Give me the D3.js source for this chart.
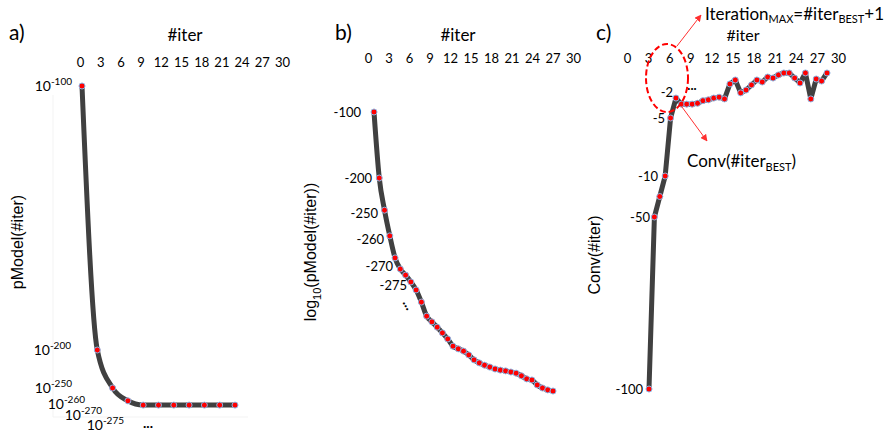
<!DOCTYPE html>
<html><head><meta charset="utf-8">
<script src="https://cdn.jsdelivr.net/npm/d3@7"></script>
<style>body{margin:0;background:#fff}svg{display:block}</style>
</head><body>
<svg id="c" width="891" height="435"></svg>
<script>
// ---------- data ----------
const xTicks = [0,3,6,9,12,15,18,21,24,27,30];
const aTickVals = [-100,-200,-250,-260,-270,-275];
const aTickExp = ["-100","-200","-250","-260","-270","-275"];
const bTickVals = [-100,-200,-250,-260,-270,-275];
const cTickVals = [-2,-5,-10,-50,-100];
// log10 of pModel per iteration (panel a)
const pModelA = [-100,-200,-250,-258,-261,-261,-261,-261,-261,-261,-261];
// log10(pModel(#iter)) (panel b)
const log10B = [-100,-200,-246,-258.8,-267,-270.8,-272.4,-274.2,-276.3,-279.5,-283.2,-284.7,-286.1,-287.6,-289.2,-291.1,-291.8,-292.4,-293.4,-294.7,-295.5,-296.1,-296.6,-297.1,-297.4,-297.6,-297.9,-298.2,-298.9,-299.7,-300,-301.3,-302.1,-302.6,-302.9];
// Conv(#iter) (panel c)
const convC = [-100,-50,-30,-10,-5,-2.7,-3.4,-3.4,-3.4,-3.3,-3.0,-2.9,-2.7,-2.6,-2.8,-1.27,-0.91,-2.1,-1.82,-1.36,-0.91,-1.09,-0.64,-0.73,-0.45,-0.27,-0.27,-0.73,-1.18,-0.27,-2.8,-0.82,-1.0,-0.27];

// ---------- drawing ----------
const svg = d3.select("#c");
const tickFont = "Lato, 'Open Sans', sans-serif";
const lineColor = "#404040";

function panel(cfg){
  const g = svg.append("g");
  const xs = d3.scaleLinear().domain([0,30]).range(cfg.xRange);
  const ax = g.append("g").attr("transform",`translate(0,${cfg.xAxisY})`)
    .call(d3.axisTop(xs).tickValues(xTicks).tickSize(0).tickPadding(0));
  ax.select(".domain").remove();
  ax.selectAll("text").attr("font-family",tickFont).attr("font-size",13).attr("fill","#000").attr("dy","0.35em");
  g.append("text").attr("x",cfg.headX).attr("y",cfg.headY).attr("text-anchor","middle")
    .attr("font-family",tickFont).attr("font-size",cfg.headFont||17).attr("dy","0.35em").text("#iter");
  g.append("text").attr("x",cfg.letterX).attr("y",33).attr("dy","0.35em")
    .attr("font-family",tickFont).attr("font-size",21).text(cfg.letter);
  const ys = d3.scaleLinear().domain(cfg.yDomain).range(cfg.yRange);
  const px = d3.scalePoint().domain(d3.range(cfg.data.length)).range(cfg.ptRange);
  cfg.yTicks.forEach((v,i)=>{
    const t = g.append("text").attr("x",cfg.yLabelX[i]).attr("y",ys(v)).attr("dy","0.35em")
      .attr("text-anchor","end").attr("font-family",tickFont).attr("font-size",cfg.yFont||13);
    if(cfg.exp){
      t.append("tspan").text("10");
      t.append("tspan").attr("font-size",10).attr("dy","-0.55em").text(cfg.exp[i]);
    } else t.text(String(v));
  });
  g.append("text").attr("transform",`translate(${cfg.titleX},${cfg.titleY}) rotate(-90)`)
    .attr("text-anchor","middle").attr("font-family","'Liberation Sans', Arial, sans-serif")
    .attr("font-size",16).html(cfg.title);
  const line = d3.line().x((d,i)=>px(i)).y(d=>ys(d)).curve(cfg.curve);
  g.append("path").datum(cfg.data).attr("d",line).attr("fill","none")
    .attr("stroke",lineColor).attr("stroke-width",5).attr("stroke-linejoin","round").attr("stroke-linecap","round");
  g.selectAll("circle.m").data(cfg.data).join("circle").attr("class","m")
    .attr("cx",(d,i)=>px(i)).attr("cy",d=>ys(d)).attr("r",3)
    .attr("fill","#ff0000").attr("stroke","#8db3e2").attr("stroke-width",1);
  return g;
}

svg.append("line").attr("x1",53).attr("y1",95).attr("x2",53).attr("y2",417).attr("stroke","#f3f3f3");
svg.append("line").attr("x1",53).attr("y1",417).attr("x2",248).attr("y2",417).attr("stroke","#f3f3f3");

panel({letter:"a)",letterX:9,xRange:[80,282],xAxisY:62,headX:185,headY:35,
  yDomain:aTickVals,yRange:[86,350,388,404,415,425],yTicks:aTickVals,exp:aTickExp,
  yLabelX:[72,71,72,85,102,124],yFont:14,
  title:"pModel(#iter)",titleX:23,titleY:242,
  data:pModelA,ptRange:[82,235],curve:d3.curveMonotoneX});

panel({letter:"b)",letterX:335,xRange:[368,573],xAxisY:58,headX:458,headY:35,
  yDomain:bTickVals,yRange:[112,178,213,239,266,285],yTicks:bTickVals,
  yLabelX:[361,372,378,384,393,407],
  title:"log<tspan font-size='11' dy='5'>10</tspan><tspan dy='-5'>(pModel(#iter))</tspan>",titleX:316,titleY:252,
  data:log10B,ptRange:[374,553],curve:d3.curveMonotoneX});

panel({letter:"c)",letterX:596,xRange:[627,838],xAxisY:58,headX:743,headY:35,headFont:16,
  yDomain:[0,-2,-5,-10,-50,-100],yRange:[70,92,118,176,217,389],yTicks:cTickVals,
  yLabelX:[673,665,658,650,643],
  title:"Conv(#iter)",titleX:600,titleY:255,
  data:convC,ptRange:[649,827],curve:d3.curveLinear});

svg.append("text").attr("x",148).attr("y",427).attr("text-anchor","middle").attr("dy","0.1em")
  .attr("font-family",tickFont).attr("font-size",14).attr("font-weight","bold").text("...");
svg.append("text").attr("transform","translate(406,306) rotate(60)").attr("text-anchor","middle")
  .attr("dy","0.1em").attr("font-family",tickFont).attr("font-size",14).attr("font-weight","bold").text("...");
svg.append("text").attr("x",692).attr("y",89).attr("text-anchor","middle").attr("dy","0.1em")
  .attr("font-family",tickFont).attr("font-size",13).attr("font-weight","bold").text("...");

const defs = svg.append("defs");
defs.append("marker").attr("id","ah").attr("viewBox","0 0 10 10").attr("refX",9).attr("refY",5)
  .attr("markerWidth",7).attr("markerHeight",7).attr("orient","auto")
  .append("path").attr("d","M0,0L10,5L0,10z").attr("fill","#ff3030");
svg.append("ellipse").attr("cx",667).attr("cy",78).attr("rx",21).attr("ry",34)
  .attr("fill","none").attr("stroke","#ff0000").attr("stroke-width",2).attr("stroke-dasharray","6,3");
svg.append("line").attr("x1",677).attr("y1",46).attr("x2",701).attr("y2",15)
  .attr("stroke","#ff3030").attr("stroke-width",1).attr("marker-end","url(#ah)");
svg.append("line").attr("x1",682).attr("y1",107).attr("x2",707).attr("y2",141)
  .attr("stroke","#ff3030").attr("stroke-width",1).attr("marker-end","url(#ah)");

const t1 = svg.append("text").attr("x",705).attr("y",14).attr("dy","0.35em")
  .attr("font-family",tickFont).attr("font-size",17);
t1.append("tspan").text("Iteration");
t1.append("tspan").attr("font-size",11).attr("dy",3).text("MAX");
t1.append("tspan").attr("dy",-3).text("=#iter");
t1.append("tspan").attr("font-size",11).attr("dy",3).text("BEST");
t1.append("tspan").attr("dy",-3).text("+1");

const t2 = svg.append("text").attr("x",687).attr("y",161).attr("dy","0.35em")
  .attr("font-family",tickFont).attr("font-size",17);
t2.append("tspan").text("Conv(#iter");
t2.append("tspan").attr("font-size",11).attr("dy",4).text("BEST");
t2.append("tspan").attr("dy",-4).text(")");
</script>
</body></html>
